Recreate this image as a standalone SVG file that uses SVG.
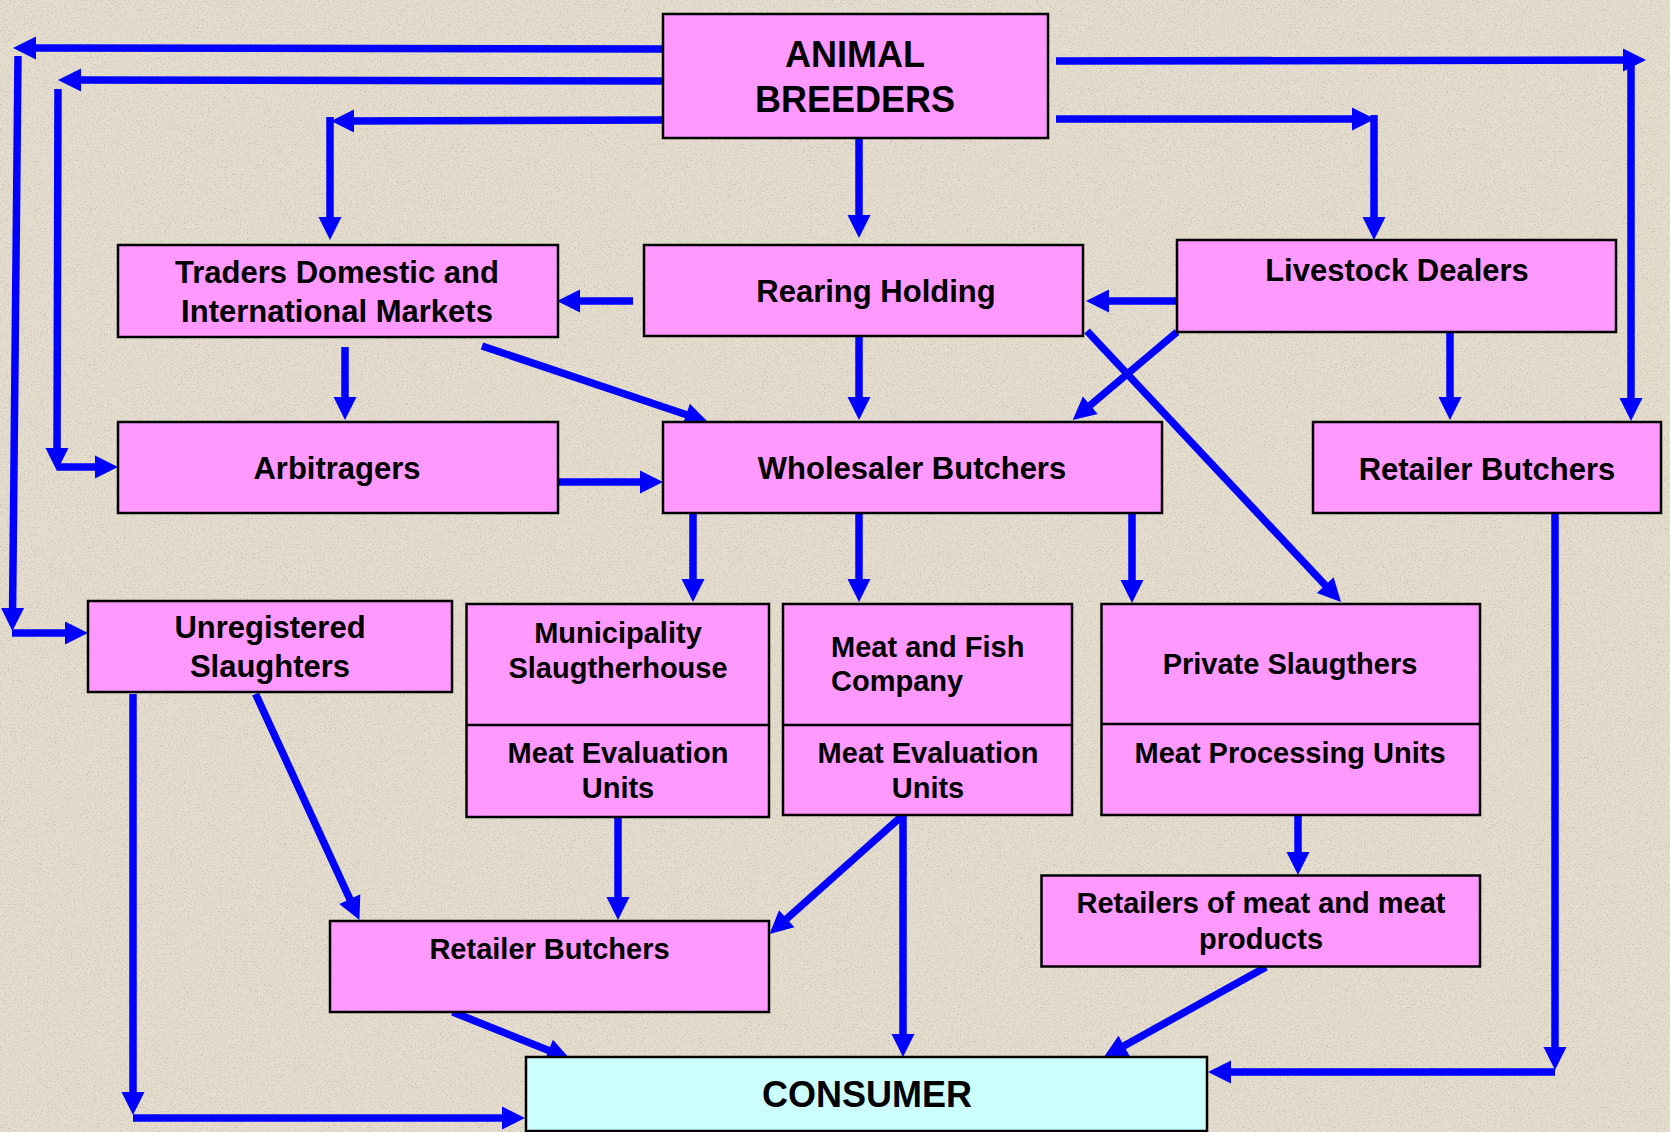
<svg xmlns="http://www.w3.org/2000/svg" width="1670" height="1132" viewBox="0 0 1670 1132">
<defs>
<style>
.box{fill:#FF99FF;stroke:#000;stroke-width:2.5}
.cons{fill:#CCFFFF;stroke:#000;stroke-width:2.5}
.div{stroke:#000;stroke-width:2.5}
.t{font-family:"Liberation Sans",Arial,sans-serif;font-weight:bold;fill:#000;text-anchor:middle}
.big{font-size:36px}
.mid{font-size:31px}
.sm{font-size:29px}
.c path{fill:none;stroke:#0000FF;stroke-width:7.5;stroke-linecap:butt;marker-end:url(#ah)}
</style>
<marker id="ah" markerUnits="userSpaceOnUse" markerWidth="24" markerHeight="24" refX="9" refY="12" orient="auto" overflow="visible">
<path d="M0,0.5 L23,12 L0,23.5 z" fill="#0000FF"/>
</marker>
<filter id="noise" x="0" y="0" width="100%" height="100%">
<feTurbulence type="fractalNoise" baseFrequency="0.7" numOctaves="2" seed="7" result="n"/>
<feColorMatrix in="n" type="matrix" values="0 0 0 0 0.5  0 0 0 0 0.45  0 0 0 0 0.38  6 0 0 0 -3.3"/>
</filter>
</defs>
<rect x="0" y="0" width="1670" height="1132" fill="#E4DCCD"/>
<rect x="0" y="0" width="1670" height="1132" filter="url(#noise)" opacity="0.5"/>

<g id="connectors" class="c">
<path d="M662,49 L27,48"/>
<path d="M18,56 L12.5,617"/>
<path d="M12,633 L74,633"/>
<path d="M662,81 L72,80"/>
<path d="M58,89 L57,457"/>
<path d="M57,467 L104,467"/>
<path d="M662,120 L345,121"/>
<path d="M330,117 L330,226"/>
<path d="M859,138 L859,224"/>
<path d="M1056,119 L1361,119"/>
<path d="M1374,115 L1374,226"/>
<path d="M1056,61 L1632,60"/>
<path d="M1631,56 L1631,407"/>
<path d="M633,301 L571,301"/>
<path d="M345,347 L345,406"/>
<path d="M482,346 L694.7,417.5"/>
<path d="M557,482 L649,482"/>
<path d="M859,331 L859,406"/>
<path d="M1177,301 L1100,301"/>
<path d="M1177,332 L1083.4,411"/>
<path d="M1087,331 L1331.4,591.8"/>
<path d="M1450,331 L1450,406"/>
<path d="M693,512 L693,588"/>
<path d="M859,512 L859,588"/>
<path d="M1132,512 L1132,589"/>
<path d="M133,694 L133,1101"/>
<path d="M133,1118 L511,1118"/>
<path d="M255.6,694 L353.6,907.3"/>
<path d="M618,815 L618,906"/>
<path d="M903,815 L780,924.7"/>
<path d="M903,815 L903,1043"/>
<path d="M452.6,1012 L557,1053.8"/>
<path d="M1298,815 L1298,861"/>
<path d="M1266,967 L1116.2,1050.2"/>
<path d="M1555,512 L1555,1056"/>
<path d="M1555,1072 L1222,1072"/>
</g>

<g id="animal-breeders">
<rect class="box" x="663" y="14" width="385" height="124"/>
<text class="t big" x="855" y="67">ANIMAL</text>
<text class="t big" x="855" y="112">BREEDERS</text>
</g>
<g id="traders">
<rect class="box" x="118" y="245" width="440" height="92"/>
<text class="t mid" x="337" y="283">Traders Domestic and</text>
<text class="t mid" x="337" y="322">International Markets</text>
</g>
<g id="rearing-holding">
<rect class="box" x="644" y="245" width="439" height="91"/>
<text class="t mid" x="876" y="302">Rearing Holding</text>
</g>
<g id="livestock-dealers">
<rect class="box" x="1177" y="240" width="439" height="92"/>
<text class="t mid" x="1397" y="281">Livestock Dealers</text>
</g>
<g id="arbitragers">
<rect class="box" x="118" y="422" width="440" height="91"/>
<text class="t mid" x="337" y="479">Arbitragers</text>
</g>
<g id="wholesaler-butchers">
<rect class="box" x="663" y="422" width="499" height="91"/>
<text class="t mid" x="912" y="479">Wholesaler Butchers</text>
</g>
<g id="retailer-butchers-right">
<rect class="box" x="1313" y="422" width="348" height="91"/>
<text class="t mid" x="1487" y="480">Retailer Butchers</text>
</g>
<g id="unregistered-slaughters">
<rect class="box" x="88" y="601" width="364" height="91"/>
<text class="t mid" x="270" y="638">Unregistered</text>
<text class="t mid" x="270" y="677">Slaughters</text>
</g>
<g id="municipality-slaughterhouse">
<rect class="box" x="466.5" y="604" width="302.5" height="213"/>
<line class="div" x1="466.5" y1="725" x2="769" y2="725"/>
<text class="t sm" x="618" y="643">Municipality</text>
<text class="t sm" x="618" y="678">Slaugtherhouse</text>
<text class="t sm" x="618" y="763">Meat Evaluation</text>
<text class="t sm" x="618" y="798">Units</text>
</g>
<g id="meat-fish-company">
<rect class="box" x="783" y="604" width="289" height="211"/>
<line class="div" x1="783" y1="725" x2="1072" y2="725"/>
<text class="t sm" x="831" y="657" style="text-anchor:start">Meat and Fish</text>
<text class="t sm" x="831" y="691" style="text-anchor:start">Company</text>
<text class="t sm" x="928" y="763">Meat Evaluation</text>
<text class="t sm" x="928" y="798">Units</text>
</g>
<g id="private-slaughters">
<rect class="box" x="1101.5" y="604" width="378.5" height="211"/>
<line class="div" x1="1101.5" y1="724" x2="1480" y2="724"/>
<text class="t sm" x="1290" y="674">Private Slaugthers</text>
<text class="t sm" x="1290" y="763">Meat Processing Units</text>
</g>
<g id="retailer-butchers-bottom">
<rect class="box" x="330" y="921" width="439" height="91"/>
<text class="t sm" x="549.5" y="959">Retailer Butchers</text>
</g>
<g id="retailers-meat-products">
<rect class="box" x="1041.5" y="875.5" width="438.5" height="91"/>
<text class="t sm" x="1261" y="913">Retailers of meat and meat</text>
<text class="t sm" x="1261" y="949">products</text>
</g>
<g id="consumer">
<rect class="cons" x="526" y="1057" width="681" height="74"/>
<text class="t big" x="867" y="1107">CONSUMER</text>
</g>
</svg>
